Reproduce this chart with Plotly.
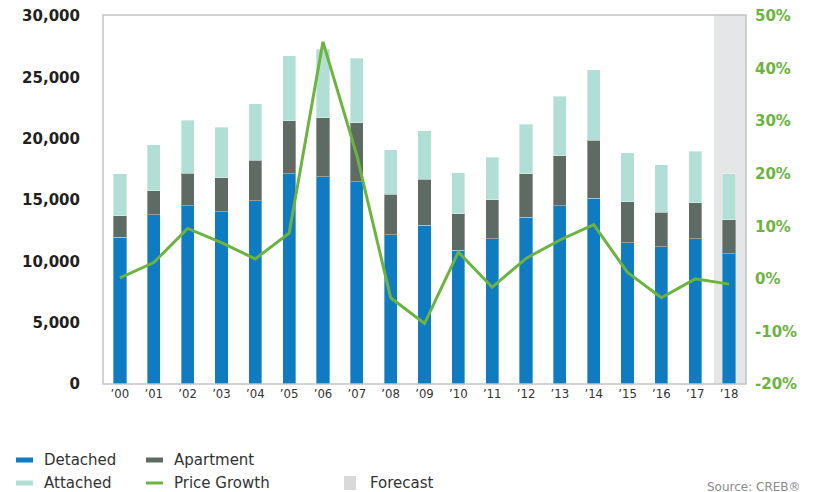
import plotly.graph_objects as go
from plotly.subplots import make_subplots

years = ["’00", "’01", "’02", "’03", "’04", "’05", "’06", "’07", "’08", "’09",
         "’10", "’11", "’12", "’13", "’14", "’15", "’16", "’17", "’18"]
detached = [11960, 13800, 14540, 14050, 14950, 17150, 16900, 16500, 12150, 12960,
            10900, 11850, 13590, 14540, 15160, 11520, 11200, 11850, 10600]
apartment = [1740, 1960, 2660, 2750, 3310, 4290, 4790, 4780, 3310, 3750,
             2990, 3180, 3530, 4050, 4730, 3320, 2820, 2910, 2770]
attached = [3420, 3750, 4300, 4150, 4570, 5330, 5600, 5270, 3620, 3940,
            3340, 3450, 4050, 4860, 5740, 4020, 3840, 4210, 3750]
price_growth = [0.2, 3.1, 9.6, 6.9, 3.8, 8.7, 45.1, 23.5, -3.6, -8.5,
                5.1, -1.6, 3.9, 7.4, 10.3, 1.2, -3.6, 0.0, -1.0]

left_ticks = [0, 5000, 10000, 15000, 20000, 25000, 30000]
left_labels = ["0", "5,000", "10,000", "15,000", "20,000", "25,000", "30,000"]
right_ticks = [-20, -10, 0, 10, 20, 30, 40, 50]
right_labels = ["-20%", "-10%", "0%", "10%", "20%", "30%", "40%", "50%"]

x = list(range(len(years)))

BLUE = "#0F7BC0"
APT = "#5E6B64"
ATT = "#B2DFD5"
GREEN = "#6DB33F"
FORECAST = "#E5E6E8"
TICKFONT = "DejaVu Sans, Verdana, sans-serif"

fig = make_subplots(specs=[[{"secondary_y": True}]])
bar_line = dict(color="rgba(255,255,255,0.35)", width=1)
fig.add_trace(go.Bar(x=x, y=detached, name="Detached", marker=dict(color=BLUE, line=bar_line),
                     width=0.39), secondary_y=False)
fig.add_trace(go.Bar(x=x, y=apartment, name="Apartment", marker=dict(color=APT, line=bar_line),
                     width=0.39), secondary_y=False)
fig.add_trace(go.Bar(x=x, y=attached, name="Attached", marker=dict(color=ATT, line=bar_line),
                     width=0.39), secondary_y=False)
fig.add_trace(go.Scatter(x=x, y=price_growth, name="Price Growth", mode="lines",
                         line=dict(color=GREEN, width=3)), secondary_y=True)

fig.update_layout(
    barmode="stack",
    width=817, height=492,
    margin=dict(l=103, r=71, t=15, b=108, autoexpand=False),
    plot_bgcolor="white", paper_bgcolor="white",
    showlegend=False,
    font=dict(family=TICKFONT),
)
fig.update_xaxes(domain=[0, 1], range=[-0.5, 18.5], tickvals=x, ticktext=years, showgrid=False,
                 zeroline=False, showline=False, ticks="", automargin=False,
                 tickfont=dict(family="Liberation Sans Narrow, DejaVu Sans Condensed, sans-serif",
                               size=13, color="#333333"))
fig.update_yaxes(range=[0, 30080], tickvals=left_ticks, ticktext=left_labels, showgrid=False,
                 zeroline=False, showline=False, ticks="", ticklabelstandoff=22, automargin=False,
                 tickfont=dict(family=TICKFONT, size=15, color="#231F20", weight="bold"),
                 secondary_y=False)
fig.update_yaxes(range=[-20, 50.2], tickvals=right_ticks, ticktext=right_labels, showgrid=False,
                 zeroline=False, showline=False, ticks="", ticklabelstandoff=8, automargin=False,
                 tickfont=dict(family=TICKFONT, size=15, color=GREEN, weight="bold"),
                 secondary_y=True)

# forecast shading
fig.add_shape(type="rect", xref="x", yref="paper", x0=17.55, x1=18.5, y0=0, y1=1,
              fillcolor=FORECAST, line=dict(width=0), layer="below")
# frame
fig.add_shape(type="rect", xref="paper", yref="paper", x0=0, x1=1, y0=0, y1=1,
              line=dict(color="#C4C4C4", width=1.5), layer="above")

# custom legend (pixel -> paper helpers)
L, R, T, B = 103, 746, 15, 384
def px(v):
    return (v - L) / (R - L)
def py(v):
    return (B - v) / (B - T)

legend_font = dict(family=TICKFONT, size=15, color="#333333")
items = [
    ("Detached", BLUE, 16, 460, "bar"),
    ("Apartment", APT, 146, 460, "bar"),
    ("Attached", ATT, 16, 483, "bar"),
    ("Price Growth", GREEN, 146, 483, "line"),
]
for label, color, mx, my, kind in items:
    h = 5 if kind == "bar" else 3
    fig.add_shape(type="rect", xref="paper", yref="paper",
                  x0=px(mx), x1=px(mx + 17), y0=py(my + h / 2), y1=py(my - h / 2),
                  fillcolor=color, line=dict(width=0))
    fig.add_annotation(xref="paper", yref="paper", x=px(mx + 26), y=py(my),
                       text=label, showarrow=False, xanchor="left", yanchor="middle",
                       font=legend_font)
fig.add_shape(type="rect", xref="paper", yref="paper",
              x0=px(344), x1=px(356), y0=py(490), y1=py(476),
              fillcolor="#D9D9D9", line=dict(width=0))
fig.add_annotation(xref="paper", yref="paper", x=px(368), y=py(483), text="Forecast",
                   showarrow=False, xanchor="left", yanchor="middle", font=legend_font)
fig.add_annotation(xref="paper", yref="paper", x=px(803), y=py(487), text="Source: CREB®",
                   showarrow=False, xanchor="right", yanchor="middle",
                   font=dict(family=TICKFONT, size=12, color="#8A8A8A"))

fig.write_html("out.html")
